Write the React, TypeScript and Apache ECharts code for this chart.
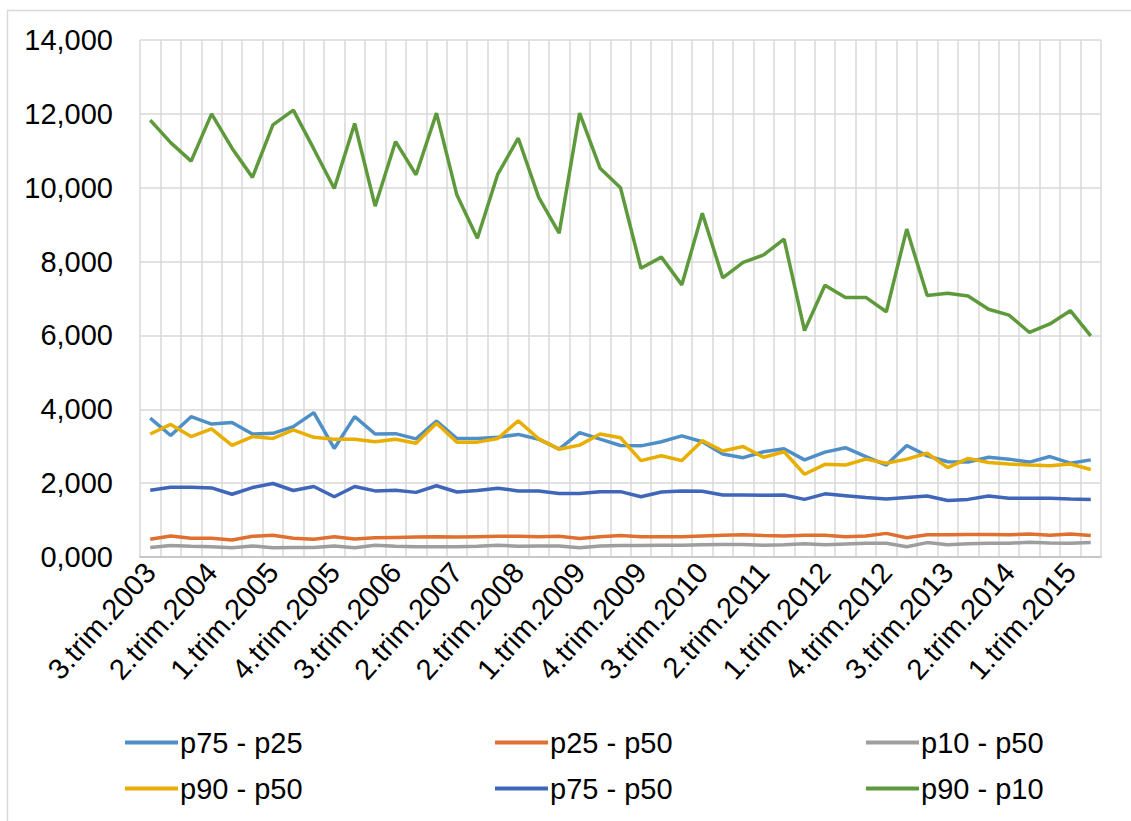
import React, { useEffect, useRef } from "react";
import * as echarts from "echarts";

const categories = [
  "3.trim.2003", "4.trim.2003",
  "1.trim.2004", "2.trim.2004", "3.trim.2004", "4.trim.2004",
  "1.trim.2005", "2.trim.2005", "3.trim.2005", "4.trim.2005",
  "1.trim.2006", "2.trim.2006", "3.trim.2006", "4.trim.2006",
  "1.trim.2007", "2.trim.2007", "3.trim.2007",
  "1.trim.2008", "2.trim.2008", "3.trim.2008", "4.trim.2008",
  "1.trim.2009", "2.trim.2009", "3.trim.2009", "4.trim.2009",
  "1.trim.2010", "2.trim.2010", "3.trim.2010", "4.trim.2010",
  "1.trim.2011", "2.trim.2011", "3.trim.2011", "4.trim.2011",
  "1.trim.2012", "2.trim.2012", "3.trim.2012", "4.trim.2012",
  "1.trim.2013", "2.trim.2013", "3.trim.2013", "4.trim.2013",
  "1.trim.2014", "2.trim.2014", "3.trim.2014", "4.trim.2014",
  "1.trim.2015", "2.trim.2015",
];

const p75_p25 = [
  3.76, 3.29, 3.80, 3.60, 3.64, 3.33, 3.35, 3.53, 3.91, 2.94, 3.80, 3.33, 3.34,
  3.20, 3.68, 3.21, 3.21, 3.24, 3.32, 3.19, 2.92, 3.37, 3.19, 3.02, 3.01, 3.12, 3.28, 3.12, 2.79, 2.69, 2.85,
  2.93, 2.63, 2.84, 2.96, 2.72, 2.49, 3.02, 2.74, 2.58, 2.57, 2.70, 2.65, 2.57, 2.72, 2.54, 2.63,
];
const p25_p50 = [
  0.48, 0.57, 0.51, 0.51, 0.46, 0.56, 0.59, 0.51, 0.48, 0.55, 0.49, 0.52, 0.53,
  0.54, 0.55, 0.54, 0.55, 0.56, 0.56, 0.55, 0.56, 0.50, 0.55, 0.58, 0.55, 0.55, 0.55, 0.57, 0.59, 0.60, 0.58,
  0.57, 0.59, 0.59, 0.55, 0.57, 0.64, 0.52, 0.60, 0.60, 0.61, 0.61, 0.60, 0.62, 0.59, 0.62, 0.58,
];
const p10_p50 = [
  0.26, 0.31, 0.29, 0.28, 0.25, 0.30, 0.25, 0.26, 0.26, 0.30, 0.25, 0.32, 0.29,
  0.28, 0.28, 0.28, 0.29, 0.32, 0.29, 0.30, 0.30, 0.25, 0.30, 0.31, 0.31, 0.32, 0.32, 0.33, 0.34, 0.34, 0.32,
  0.33, 0.36, 0.33, 0.35, 0.37, 0.37, 0.28, 0.39, 0.33, 0.36, 0.37, 0.37, 0.40, 0.38, 0.37, 0.39,
];
const p90_p50 = [
  3.33, 3.59, 3.26, 3.47, 3.02, 3.26, 3.21, 3.44, 3.24, 3.19, 3.19, 3.12, 3.19,
  3.08, 3.62, 3.11, 3.11, 3.21, 3.69, 3.20, 2.92, 3.03, 3.33, 3.23, 2.61, 2.74, 2.61, 3.15, 2.87, 2.99, 2.70,
  2.85, 2.24, 2.51, 2.49, 2.65, 2.54, 2.65, 2.81, 2.42, 2.67, 2.56, 2.52, 2.49, 2.47, 2.52, 2.37,
];
const p75_p50 = [
  1.81, 1.89, 1.89, 1.87, 1.70, 1.88, 1.99, 1.80, 1.91, 1.63, 1.91, 1.79, 1.81,
  1.75, 1.93, 1.76, 1.80, 1.86, 1.79, 1.79, 1.72, 1.72, 1.77, 1.77, 1.63, 1.76, 1.79, 1.78, 1.68, 1.68, 1.67,
  1.68, 1.56, 1.71, 1.66, 1.61, 1.57, 1.61, 1.65, 1.53, 1.56, 1.65, 1.59, 1.59, 1.59, 1.57, 1.56,
];
const p90_p10 = [
  11.83, 11.22, 10.72, 12.00, 11.07, 10.28, 11.70, 12.10, 11.05, 9.98, 11.74, 9.50, 11.25,
  10.35, 12.02, 9.80, 8.63, 10.37, 11.34, 9.74, 8.77, 12.02, 10.53, 10.00, 7.82, 8.12, 7.37, 9.31, 7.56, 7.98, 8.18,
  8.61, 6.13, 7.36, 7.03, 7.03, 6.64, 8.88, 7.08, 7.14, 7.07, 6.71, 6.55, 6.08, 6.31, 6.67, 5.99,
];

const seriesNames = ["p75 - p25", "p25 - p50", "p10 - p50", "p90 - p50", "p75 - p50", "p90 - p10"];
const seriesData = [p75_p25, p25_p50, p10_p50, p90_p50, p75_p50, p90_p10];
const seriesColors = ["#4f8fc8", "#e07030", "#9e9e9e", "#e8ae00", "#3f66b8", "#5e9a3c"];

const FONT = "'Liberation Sans', Arial, sans-serif";
const FS = 29;

export default function App() {
  const ref = useRef<HTMLDivElement>(null);
  useEffect(() => {
    if (!ref.current) return;
    const chart = echarts.init(ref.current, undefined, { renderer: "svg" });
    const legendStyle = {
      orient: "vertical" as const,
      top: 728,
      icon: "rect",
      itemWidth: 53,
      itemHeight: 4,
      itemGap: 17,
      padding: 0,
      selectedMode: false,
      textStyle: { fontSize: FS, color: "#000", fontFamily: FONT, padding: [0, 0, 0, -3] },
    };
    chart.setOption({
      animation: false,
      backgroundColor: "#fff",
      textStyle: { fontFamily: FONT },
      graphic: [
        {
          type: "rect",
          shape: { x: 7.5, y: 10.5, width: 1300, height: 1000 },
          style: { fill: "none", stroke: "#d9d9d9", lineWidth: 1.5 },
          silent: true,
        },
      ],
      grid: { left: 140, right: 30, top: 40, bottom: 264, containLabel: false },
      legend: [
        { ...legendStyle, left: 125, data: [seriesNames[0], seriesNames[3]] },
        { ...legendStyle, left: 495, data: [seriesNames[1], seriesNames[4]] },
        { ...legendStyle, left: 866, data: [seriesNames[2], seriesNames[5]] },
      ],
      xAxis: {
        type: "category",
        data: categories,
        boundaryGap: true,
        axisLine: { show: true, lineStyle: { color: "#bfbfbf", width: 1.5 } },
        axisTick: { show: false },
        splitLine: { show: true, interval: 0, lineStyle: { color: "#d9d9d9", width: 1.5 } },
        axisLabel: {
          interval: 2,
          rotate: 48,
          fontSize: FS,
          color: "#000",
          fontFamily: FONT,
          margin: 10,
        },
      },
      yAxis: {
        type: "value",
        min: 0,
        max: 14,
        interval: 2,
        axisLine: { show: false },
        axisTick: { show: false },
        splitLine: { show: true, lineStyle: { color: "#d9d9d9", width: 1.5 } },
        axisLabel: {
          fontSize: FS,
          color: "#000",
          fontFamily: FONT,
          margin: 27,
          formatter: (v: number) => v.toFixed(3).replace(".", ","),
        },
      },
      series: seriesNames.map((name, i) => ({
        name,
        type: "line",
        data: seriesData[i],
        showSymbol: false,
        symbol: "none",
        smooth: false,
        color: seriesColors[i],
        lineStyle: { color: seriesColors[i], width: 3.5 },
        emphasis: { disabled: true },
      })),
    });
    return () => chart.dispose();
  }, []);
  return (
    <div
      ref={ref}
      style={{ position: "fixed", left: 0, top: 0, width: 1131, height: 821, background: "#fff" }}
    />
  );
}
